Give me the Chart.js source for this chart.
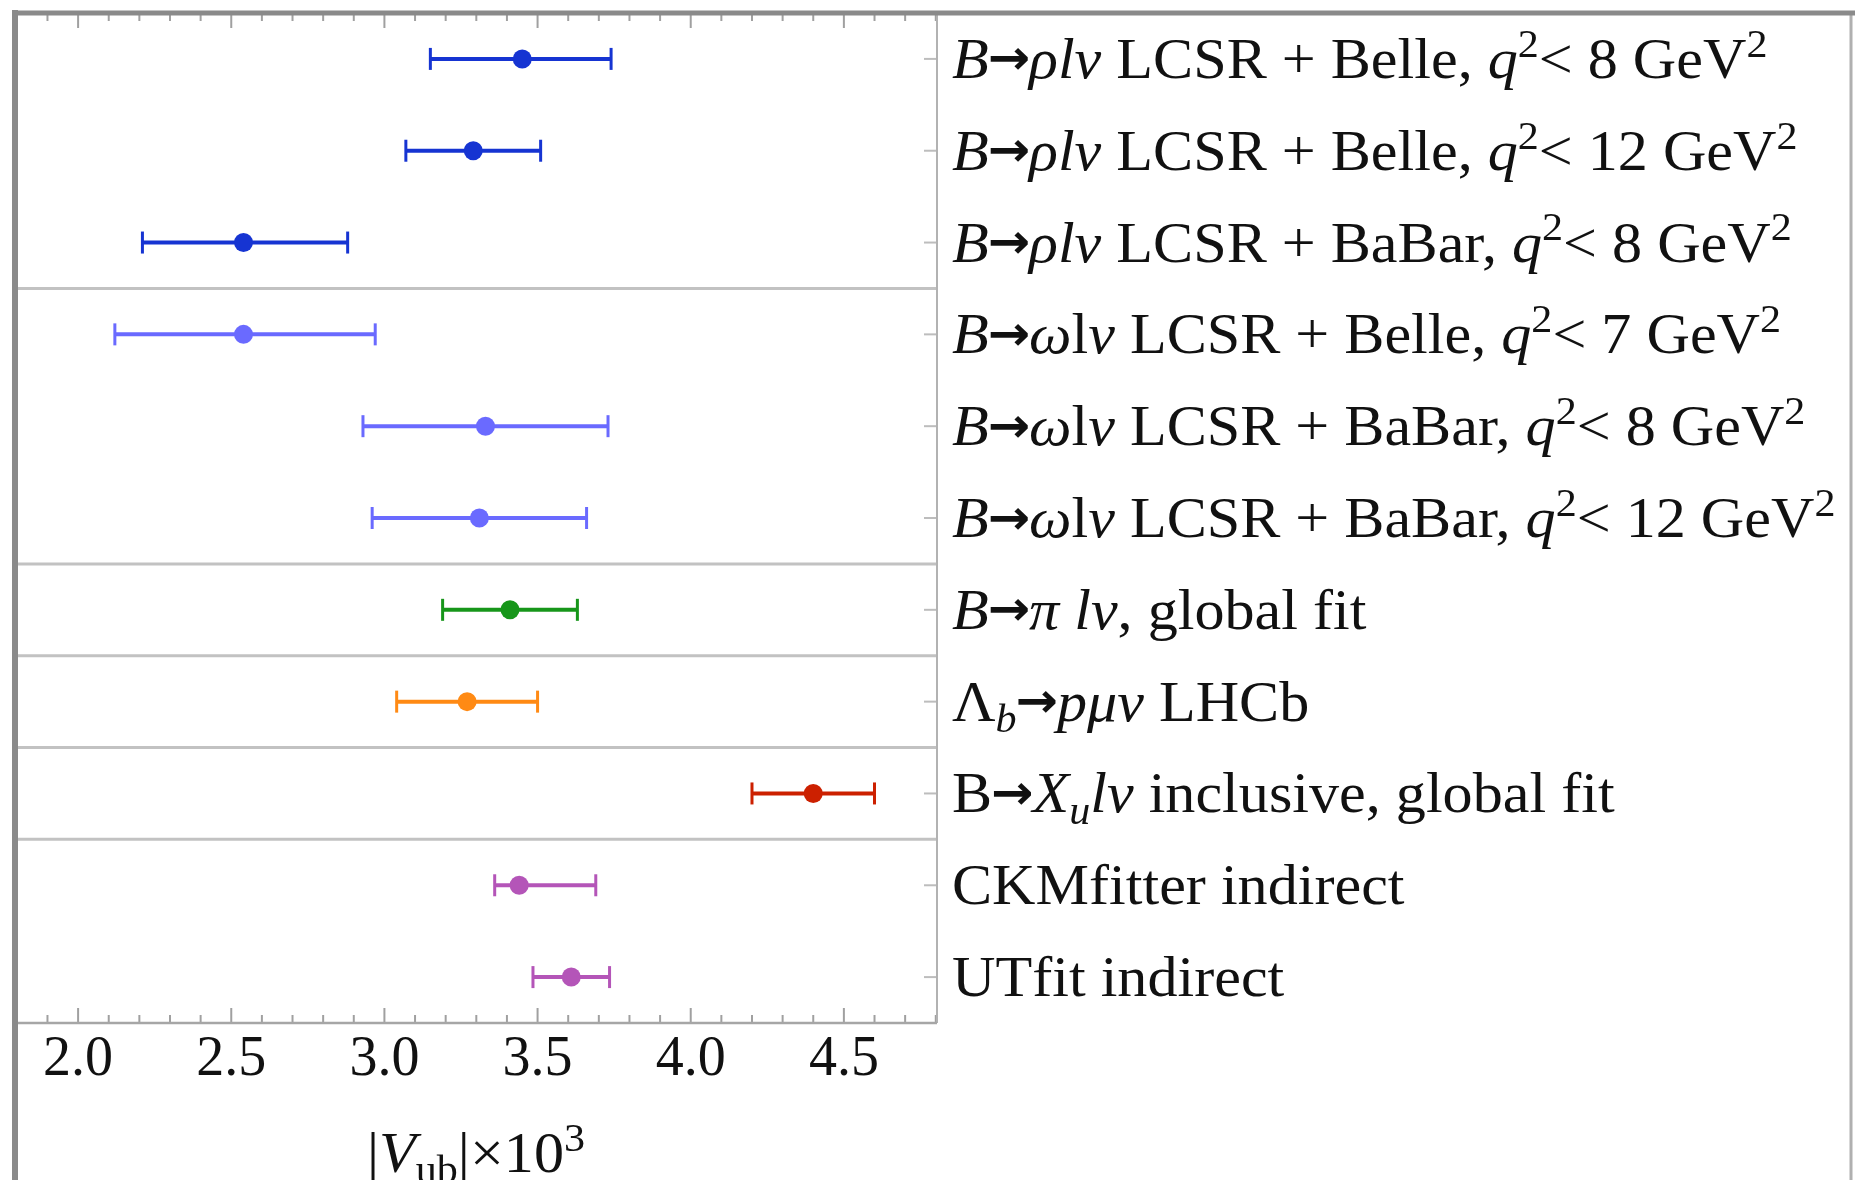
<!DOCTYPE html>
<html>
<head>
<meta charset="utf-8">
<script src="https://cdn.jsdelivr.net/npm/chart.js@4.4.1/dist/chart.umd.min.js"></script>
<style>
  html, body { margin: 0; padding: 0; background: #fff; }
  #wrap { position: relative; width: 1855px; height: 1180px; }
</style>
</head>
<body>
<div id="wrap"><canvas id="vub_chart"></canvas></div>
<script>
// |Vub| determinations, top row first.
// *...* switches italic, ^{..} is a superscript, _{..} a subscript
const rowLabels = [
  "*B*→*ρlν* LCSR + Belle, *q*^{2}< 8 GeV^{2}",
  "*B*→*ρlν* LCSR + Belle, *q*^{2}< 12 GeV^{2}",
  "*B*→*ρlν* LCSR + BaBar, *q*^{2}< 8 GeV^{2}",
  "*B*→*ω*l*ν* LCSR + Belle, *q*^{2}< 7 GeV^{2}",
  "*B*→*ω*l*ν* LCSR + BaBar, *q*^{2}< 8 GeV^{2}",
  "*B*→*ω*l*ν* LCSR + BaBar, *q*^{2}< 12 GeV^{2}",
  "*B*→*π lν*, global fit",
  "Λ_{*b*}→*pμν* LHCb",
  "B→*X*_{*u*}*lν* inclusive, global fit",
  "CKMfitter indirect",
  "UTfit indirect",
];
const centralValues = [3.45, 3.29, 2.54, 2.54, 3.33, 3.31, 3.41, 3.27, 4.40, 3.44, 3.61];
const errLow  = [0.30, 0.22, 0.33, 0.42, 0.40, 0.35, 0.22, 0.23, 0.20, 0.08, 0.125];
const errHigh = [0.29, 0.22, 0.34, 0.43, 0.40, 0.35, 0.22, 0.23, 0.20, 0.25, 0.125];
// rows per block, separated by horizontal rules
const groupSizes = [3, 3, 1, 1, 1, 2];
const xTickValues = [2.0, 2.5, 3.0, 3.5, 4.0, 4.5];
const xTitle = "|*V*_{ub}|×10^{3}";

const rowColors = [
  "#1634d2", "#1634d2", "#1634d2",
  "#6a6aff", "#6a6aff", "#6a6aff",
  "#17961a", "#ff8a14", "#cc2000",
  "#b455b8", "#b455b8",
];

const SERIF = '"Liberation Serif", "DejaVu Serif", serif';

function parseRich(src) {
  const runs = [];
  let italic = false;
  const re = /\*|→|\^\{([^}]*)\}|_\{([^}]*)\}|[^*^_→]+/g;
  let m;
  while ((m = re.exec(src))) {
    if (m[0] === "*") { italic = !italic; continue; }
    if (m[0] === "→") { runs.push({ text: "→", arrow: true }); continue; }
    if (m[1] !== undefined || m[2] !== undefined) {
      const body = m[1] !== undefined ? m[1] : m[2];
      runs.push({
        text: body.replace(/\*/g, ""),
        italic: body.includes("*") ? true : italic,
        shift: m[1] !== undefined ? "sup" : "sub",
      });
    } else {
      runs.push({ text: m[0], italic, shift: null });
    }
  }
  return runs;
}

function drawRich(ctx, src, x, y, size, align, sx) {
  const runs = parseRich(src);
  let total = 0;
  runs.forEach(r => {
    if (r.arrow) {
      r.font = "bold " + Math.round(size * 0.84) + 'px "DejaVu Sans", sans-serif';
    } else {
      const s = r.shift ? size * 0.7 : size;
      r.font = (r.italic ? "italic " : "") + s + "px " + SERIF;
    }
    ctx.font = r.font;
    r.w = ctx.measureText(r.text).width + (r.arrow ? -2 : 0);
    total += r.w;
  });
  const start = align === "center" ? x - total * sx / 2 : x;
  ctx.save();
  ctx.translate(start, y);
  ctx.scale(sx, 1);
  ctx.textBaseline = "alphabetic";
  ctx.textAlign = "left";
  let cx = 0;
  runs.forEach(r => {
    let dy = 0;
    if (r.shift === "sup") dy = -size * 0.37;
    else if (r.shift === "sub") dy = size * 0.2;
    else if (r.arrow) dy = -size * 0.06;
    ctx.font = r.font;
    ctx.fillText(r.text, cx + (r.arrow ? -1 : 0), dy);
    cx += r.w;
  });
  ctx.restore();
}

function line(ctx, x0, y0, x1, y1) {
  ctx.beginPath();
  ctx.moveTo(x0, y0);
  ctx.lineTo(x1, y1);
  ctx.stroke();
}

const decor = {
  id: "decor",
  beforeDatasetsDraw(chart) {
    const { ctx, chartArea: a, scales: { x, y } } = chart;
    ctx.save();

    // block separators
    ctx.strokeStyle = "#c2c2c2";
    ctx.lineWidth = 3;
    let acc = 0;
    groupSizes.slice(0, -1).forEach(n => {
      acc += n;
      const py = y.getPixelForValue(acc + 0.5);
      line(ctx, a.left, py, a.right, py);
    });

    // frame ticks: minor every 0.1, major every 0.5
    ctx.strokeStyle = "#a0a0a0";
    ctx.lineWidth = 2;
    for (let k = Math.ceil(x.min * 10); k <= Math.floor(x.max * 10); k++) {
      const px = x.getPixelForValue(k / 10);
      const len = k % 5 === 0 ? 15 : 8;
      line(ctx, px, a.top, px, a.top + len);
      line(ctx, px, a.bottom, px, a.bottom - len);
    }
    ctx.strokeStyle = "#bdbdbd";
    rowLabels.forEach((_, i) => {
      const py = y.getPixelForValue(i + 1);
      line(ctx, a.right - 13, py, a.right, py);
    });

    // error bars
    ctx.lineWidth = 4;
    centralValues.forEach((c, i) => {
      const py = y.getPixelForValue(i + 1);
      const x0 = x.getPixelForValue(c - errLow[i]);
      const x1 = x.getPixelForValue(c + errHigh[i]);
      ctx.strokeStyle = rowColors[i];
      line(ctx, x0, py, x1, py);
      ctx.lineWidth = 3;
      line(ctx, x0, py - 11, x0, py + 11);
      line(ctx, x1, py - 11, x1, py + 11);
      ctx.lineWidth = 4;
    });
    ctx.restore();
  },
  afterDraw(chart) {
    const { ctx, chartArea: a, scales: { x, y }, width, height } = chart;
    ctx.save();

    // plot frame
    ctx.strokeStyle = "#b2b2b2";
    ctx.lineWidth = 2;
    line(ctx, a.right, a.top, a.right, a.bottom);
    ctx.strokeStyle = "#a6a6a6";
    ctx.lineWidth = 2.5;
    line(ctx, a.left, a.bottom, a.right, a.bottom);
    ctx.strokeStyle = "#b0b0b0";
    ctx.lineWidth = 3;
    line(ctx, width - 4, a.top, width - 4, height);
    ctx.strokeStyle = "#8a8a8a";
    ctx.lineWidth = 6;
    line(ctx, a.left, a.top - 3, a.left, height);
    ctx.lineWidth = 5;
    line(ctx, a.left - 3, a.top, width, a.top);

    // row labels
    ctx.fillStyle = "#111";
    rowLabels.forEach((lbl, i) => {
      const py = y.getPixelForValue(i + 1);
      drawRich(ctx, lbl, a.right + 15, py + 19, 57, "left", 1.055);
    });

    // axis title
    drawRich(ctx, xTitle, (a.left + a.right) / 2, 1172, 57, "center", 1.055);
    ctx.restore();
  },
};

new Chart(document.getElementById("vub_chart"), {
  type: "scatter",
  data: {
    datasets: [{
      data: centralValues.map((v, i) => ({ x: v, y: i + 1 })),
      pointRadius: 9.5,
      pointHoverRadius: 9.5,
      pointBorderWidth: 0,
      pointBackgroundColor: rowColors,
      showLine: false,
    }],
  },
  options: {
    responsive: true,
    maintainAspectRatio: false,
    animation: false,
    layout: { padding: { left: 15, right: 918, top: 13, bottom: 0 } },
    plugins: { legend: { display: false }, tooltip: { enabled: false } },
    scales: {
      x: {
        type: "linear",
        min: 1.794,
        max: 4.804,
        afterBuildTicks: s => { s.ticks = xTickValues.map(v => ({ value: v })); },
        afterFit: s => { s.height = 157; },
        grid: { display: false, drawTicks: false },
        border: { display: false },
        ticks: {
          font: { family: SERIF, size: 56 },
          color: "#111",
          padding: 4,
          maxRotation: 0,
          autoSkip: false,
          callback: v => Number(v).toFixed(1),
        },
      },
      y: {
        type: "linear",
        min: 0.5,
        max: 11.5,
        reverse: true,
        display: false,
      },
    },
  },
  plugins: [decor],
});
</script>
</body>
</html>
